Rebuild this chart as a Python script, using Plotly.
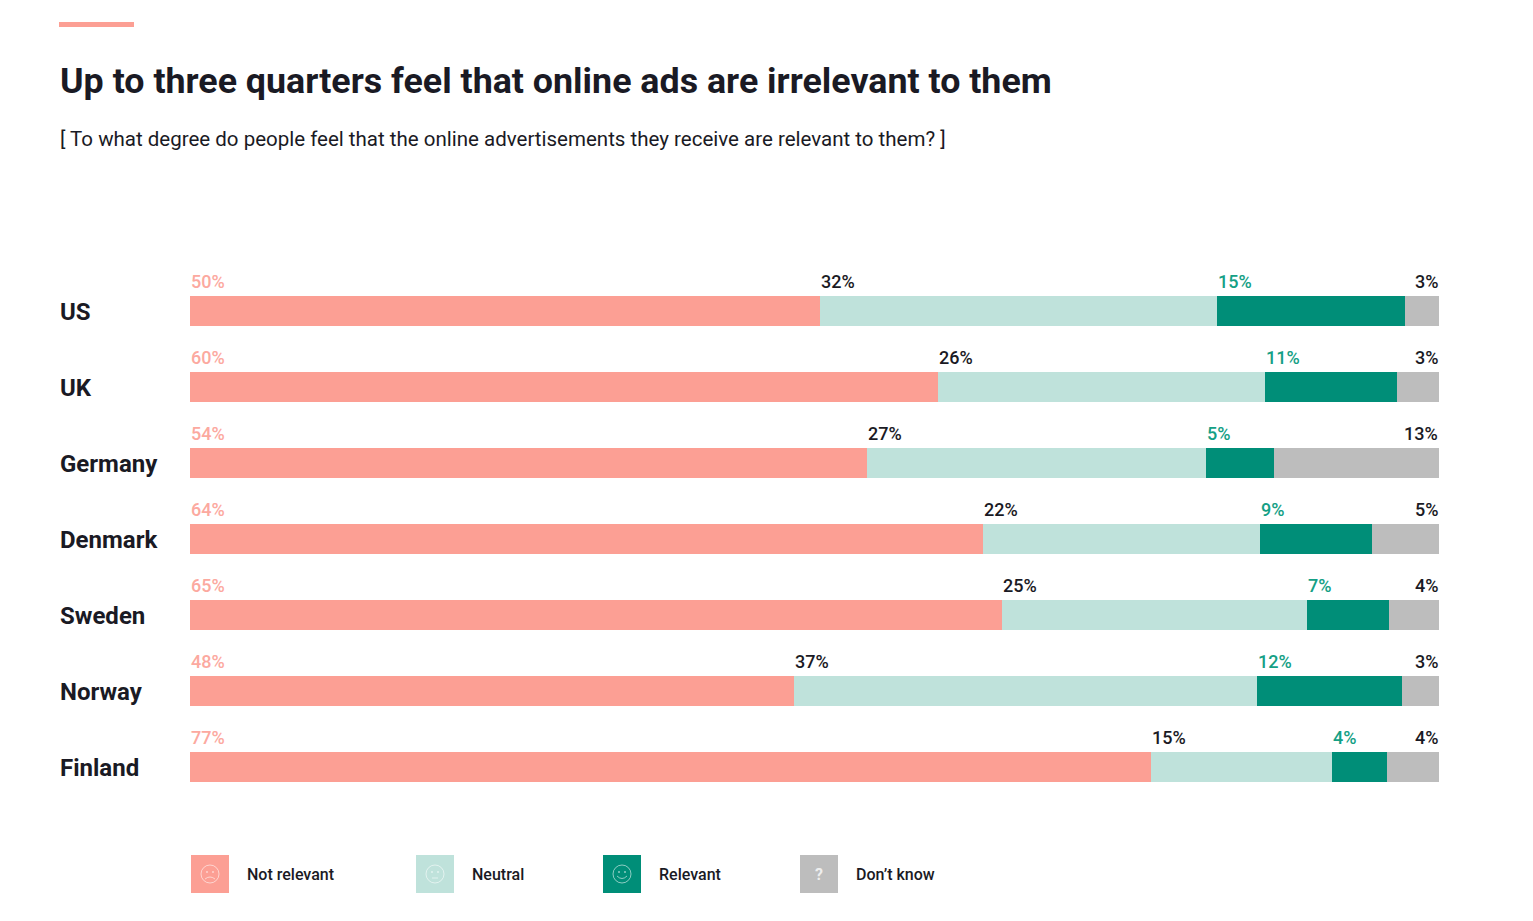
import plotly.graph_objects as go

countries = ["US", "UK", "Germany", "Denmark", "Sweden", "Norway", "Finland"]
series_names = ["Not relevant", "Neutral", "Relevant", "Don’t know"]
colors = ["#FC9F94", "#BFE2DB", "#008E78", "#BDBDBD"]
label_colors = ["#FCA99F", "#1A1A24", "#14A085", "#1A1A24"]

# bar lengths as measured on the picture (they are scaled to fill the full width)
not_relevant = [50.45, 59.9, 54.2, 63.5, 65.0, 48.35, 76.95]
neutral = [31.75, 26.2, 27.15, 22.2, 24.4, 37.1, 14.5]
relevant = [15.05, 10.55, 5.45, 8.95, 6.6, 11.6, 4.35]
dont_know = [2.75, 3.35, 13.2, 5.35, 4.0, 2.95, 4.2]

# printed labels
not_relevant_labels = ["50%", "60%", "54%", "64%", "65%", "48%", "77%"]
neutral_labels = ["32%", "26%", "27%", "22%", "25%", "37%", "15%"]
relevant_labels = ["15%", "11%", "5%", "9%", "7%", "12%", "4%"]
dont_know_labels = ["3%", "3%", "13%", "5%", "4%", "3%", "4%"]

all_values = [not_relevant, neutral, relevant, dont_know]
all_labels = [not_relevant_labels, neutral_labels, relevant_labels, dont_know_labels]

W, H = 1533, 921
LEFT, RIGHT, TOP, BOTTOM = 190, 1439, 273, 805
FONT = "Roboto"
DARK = "#1A1A24"
FACE = "rgba(255,255,255,0.55)"


def px_x(x):
    return (x - LEFT) / (RIGHT - LEFT)


def px_y(y):
    return (BOTTOM - y) / (BOTTOM - TOP)


def mouth_path(cx, cy, kind):
    # the three faces only differ by their mouth
    y_ends, y_mid = {"sad": (5, 1), "flat": (4, 4), "happy": (2, 7)}[kind]
    half = 3 if kind == "flat" else 5
    return (f"M {px_x(cx - half)} {px_y(cy + y_ends)} "
            f"Q {px_x(cx)} {px_y(cy + y_mid)} {px_x(cx + half)} {px_y(cy + y_ends)}")


fig = go.Figure()
for name, values, color in zip(series_names, all_values, colors):
    fig.add_trace(go.Bar(y=countries, x=values, name=name, orientation="h",
                         marker=dict(color=color, line=dict(width=0)), showlegend=False))

annotations = []
# percent labels sit above the start of each segment, the last one ends at the right edge
for i, country in enumerate(countries):
    start = 0
    for s in range(4):
        last = s == 3
        annotations.append(dict(x=100 if last else start, y=country, xref="x", yref="y",
                                text=all_labels[s][i], showarrow=False, yshift=30,
                                xanchor="right" if last else "left", borderpad=0,
                                font=dict(family=FONT, size=18, color=label_colors[s], weight=500)))
        start += all_values[s][i]
    annotations.append(dict(x=px_x(59), y=country, xref="paper", yref="y", text=country,
                            showarrow=False, xanchor="left", borderpad=0, yshift=-1,
                            font=dict(family=FONT, size=24, color=DARK, weight=700)))

annotations.append(dict(x=px_x(59), y=px_y(81), xref="paper", yref="paper", showarrow=False,
                        text="Up to three quarters feel that online ads are irrelevant to them",
                        xanchor="left", yanchor="middle", borderpad=0,
                        font=dict(family=FONT, size=35.8, color=DARK, weight=700)))
annotations.append(dict(x=px_x(59), y=px_y(139), xref="paper", yref="paper", showarrow=False,
                        text="[ To what degree do people feel that the online advertisements they receive are relevant to them? ]",
                        xanchor="left", yanchor="middle", borderpad=0,
                        font=dict(family=FONT, size=20.5, color=DARK)))

shapes = [dict(type="rect", xref="paper", yref="paper", x0=px_x(59), x1=px_x(134),
               y0=px_y(27), y1=px_y(22), fillcolor=colors[0], line_width=0)]

# legend drawn by hand: square, little face, name
legend_x = [191, 416, 603, 800]
faces = ["sad", "flat", "happy", None]
for s, lx in enumerate(legend_x):
    cx, cy = lx + 19, 874
    shapes.append(dict(type="rect", xref="paper", yref="paper", x0=px_x(lx), x1=px_x(lx + 38),
                       y0=px_y(893), y1=px_y(855), fillcolor=colors[s], line_width=0))
    if faces[s]:
        shapes.append(dict(type="circle", xref="paper", yref="paper", x0=px_x(cx - 9), x1=px_x(cx + 9),
                           y0=px_y(cy + 9), y1=px_y(cy - 9), line=dict(color=FACE, width=1)))
        for ex in (-3, 3):
            shapes.append(dict(type="circle", xref="paper", yref="paper", x0=px_x(cx + ex - 1), x1=px_x(cx + ex + 1),
                               y0=px_y(cy - 1), y1=px_y(cy - 3), fillcolor=FACE, line_width=0))
        shapes.append(dict(type="path", xref="paper", yref="paper", path=mouth_path(cx, cy, faces[s]),
                           line=dict(color=FACE, width=1)))
    else:
        annotations.append(dict(x=px_x(cx), y=px_y(cy), xref="paper", yref="paper", text="?", showarrow=False,
                                xanchor="center", yanchor="middle",
                                font=dict(family=FONT, size=16, color="rgba(255,255,255,0.75)", weight=700)))
    annotations.append(dict(x=px_x(lx + 55), y=px_y(874), xref="paper", yref="paper", text=series_names[s],
                            showarrow=False, xanchor="left", yanchor="middle", borderpad=0,
                            font=dict(family=FONT, size=16, color=DARK, weight=500)))

fig.update_layout(
    width=W, height=H,
    barmode="stack", bargap=0.615,
    margin=dict(l=LEFT, r=W - RIGHT, t=TOP, b=H - BOTTOM, autoexpand=False),
    plot_bgcolor="white", paper_bgcolor="white",
    xaxis=dict(range=[0, 100], visible=False),
    yaxis=dict(range=[6.5, -0.5], showticklabels=False, showgrid=False, zeroline=False, ticks=""),
    annotations=annotations, shapes=shapes,
)
fig.write_html("out.html", config={"displayModeBar": False}, post_script="document.body.style.margin='0';")
